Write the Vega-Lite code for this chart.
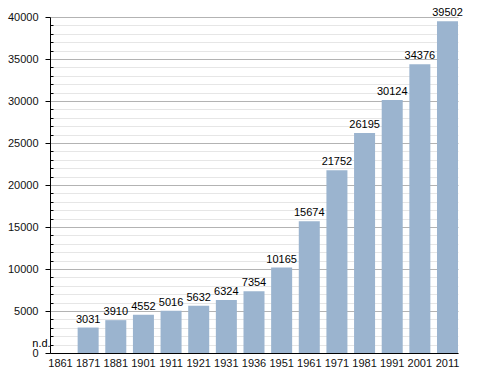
{
  "$schema": "https://vega.github.io/schema/vega-lite/v6.json",
  "width": 408,
  "height": 336,
  "autosize": {"type": "none"},
  "padding": {"left": 50, "top": 17, "right": 30, "bottom": 20},
  "background": "white",
  "config": {
    "view": {"stroke": null},
    "font": "Liberation Sans",
    "axis": {"labelFont": "Liberation Sans", "labelFontSize": 11, "labelColor": "#111"}
  },
  "data": {
    "values": [
      {"year": "1861", "pop": null, "label": "n.d."},
      {"year": "1871", "pop": 3031, "label": "3031"},
      {"year": "1881", "pop": 3910, "label": "3910"},
      {"year": "1901", "pop": 4552, "label": "4552"},
      {"year": "1911", "pop": 5016, "label": "5016"},
      {"year": "1921", "pop": 5632, "label": "5632"},
      {"year": "1931", "pop": 6324, "label": "6324"},
      {"year": "1936", "pop": 7354, "label": "7354"},
      {"year": "1951", "pop": 10165, "label": "10165"},
      {"year": "1961", "pop": 15674, "label": "15674"},
      {"year": "1971", "pop": 21752, "label": "21752"},
      {"year": "1981", "pop": 26195, "label": "26195"},
      {"year": "1991", "pop": 30124, "label": "30124"},
      {"year": "2001", "pop": 34376, "label": "34376"},
      {"year": "2011", "pop": 39502, "label": "39502"}
    ]
  },
  "encoding": {
    "x": {
      "field": "year",
      "type": "nominal",
      "scale": {
        "domain": ["1861","1871","1881","1901","1911","1921","1931","1936","1951","1961","1971","1981","1991","2001","2011"],
        "paddingInner": 0.24,
        "paddingOuter": 0
      },
      "axis": {"title": null, "labelAngle": 0, "ticks": false, "labelPadding": 4, "domainColor": "#000", "domainWidth": 1.2}
    }
  },
  "layer": [
    {
      "mark": {"type": "bar", "color": "#9bb4cf"},
      "encoding": {
        "y": {
          "field": "pop",
          "type": "quantitative",
          "scale": {"domain": [0, 40000], "nice": false},
          "axis": {
            "title": null,
            "tickCount": 100,
            "values": [0,1000,2000,3000,4000,5000,6000,7000,8000,9000,10000,11000,12000,13000,14000,15000,16000,17000,18000,19000,20000,21000,22000,23000,24000,25000,26000,27000,28000,29000,30000,31000,32000,33000,34000,35000,36000,37000,38000,39000,40000],
            "labelExpr": "datum.value % 5000 === 0 ? format(datum.value, 'd') : ''",
            "labelOverlap": false,
            "labelPadding": 7,
            "tickSize": {"condition": {"test": "datum.value % 5000 === 0", "value": 5}, "value": -3},
            "tickColor": "#000",
            "gridColor": {"condition": {"test": "datum.value % 5000 === 0", "value": "#b3b3b3"}, "value": "#e6e6e6"},
            "domainColor": "#000"
          }
        }
      }
    },
    {
      "transform": [{"filter": "datum.pop != null"}],
      "mark": {"type": "text", "baseline": "bottom", "dy": -3, "fontSize": 11, "color": "#000"},
      "encoding": {
        "y": {"field": "pop", "type": "quantitative"},
        "text": {"field": "label"}
      }
    },
    {
      "transform": [{"filter": "datum.pop == null"}],
      "mark": {"type": "text", "baseline": "bottom", "dy": -4, "dx": -19, "fontSize": 11, "color": "#000"},
      "encoding": {
        "y": {"datum": 0, "type": "quantitative"},
        "text": {"field": "label"}
      }
    }
  ]
}
